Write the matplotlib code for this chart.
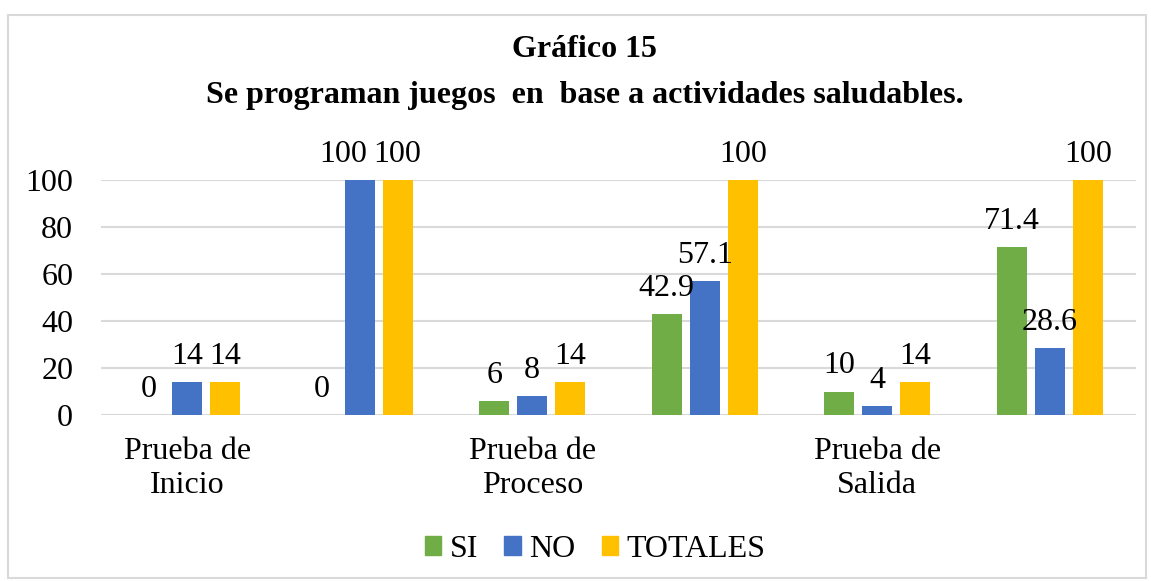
import numpy as np
import matplotlib.pyplot as plt
from matplotlib.patches import Patch, Rectangle

# category labels shown under every other group
categories = ["Prueba de\nInicio", "", "Prueba de\nProceso", "", "Prueba de\nSalida", ""]
si = [0, 0, 6, 42.9, 10, 71.4]
no = [14, 100, 8, 57.1, 4, 28.6]
totales = [14, 100, 14, 100, 14, 100]
series_names = ["SI", "NO", "TOTALES"]
colors = ["#70AD47", "#4472C4", "#FFC000"]

plt.rcParams['font.family'] = ['Liberation Serif', 'DejaVu Serif']
FS = 23

fig = plt.figure(figsize=(11.51, 5.81), dpi=100)
ax = fig.add_axes([0.0877, 0.2857, 0.8993, 0.4045])

x = np.arange(len(categories))
width = 0.174
step = 0.22

# nudge labels that would collide with a neighbour (series, group) -> points
label_shift = {(1, 1): -12}

for i, (vals, name, c) in enumerate(zip([si, no, totales], series_names, colors)):
    pos = x + (i - 1) * step
    ax.bar(pos, vals, width, color=c, label=name, zorder=3)
    for j, (px, v) in enumerate(zip(pos, vals)):
        dx = label_shift.get((i, j), 0)
        ax.annotate(f"{v:g}", (px, v), xytext=(dx, 13), textcoords="offset points",
                    ha="center", va="baseline", fontsize=FS, annotation_clip=False,
                    zorder=4)

ax.set_xlim(-0.5, len(categories) - 0.5)
ax.set_ylim(0, 100)
ax.set_yticks(np.arange(0, 101, 20))
ax.tick_params(axis='y', length=0, labelsize=FS, pad=20)
ax.set_xticks([])
ax.grid(axis='y', color='#D9D9D9', linewidth=1.5, zorder=0)
for s in ax.spines.values():
    s.set_visible(False)

# category labels below the axis
trans = ax.get_xaxis_transform()
for xi, lab in zip(x, categories):
    if lab:
        ax.text(xi, -0.095, lab, transform=trans, ha="center", va="top",
                fontsize=FS, linespacing=1.2)

fig.suptitle("Gráfico 15\nSe programan juegos  en  base a actividades saludables.",
             x=0.508, y=0.94, fontsize=23, fontweight="bold", linespacing=1.8)

handles = [Patch(color=c) for c in colors]
fig.legend(handles, series_names, loc="center", bbox_to_anchor=(0.517, 0.055), ncol=3,
           frameon=False, fontsize=FS, handlelength=0.52, handleheight=0.52,
           handletextpad=0.26, columnspacing=0.82)

# light border around the chart area
fig.patches.append(Rectangle((8 / 1151, 3 / 581), 1138 / 1151, 563 / 581,
                             transform=fig.transFigure, fill=False,
                             edgecolor="#D9D9D9", linewidth=1.5))

fig.savefig("out.png", dpi=100)
